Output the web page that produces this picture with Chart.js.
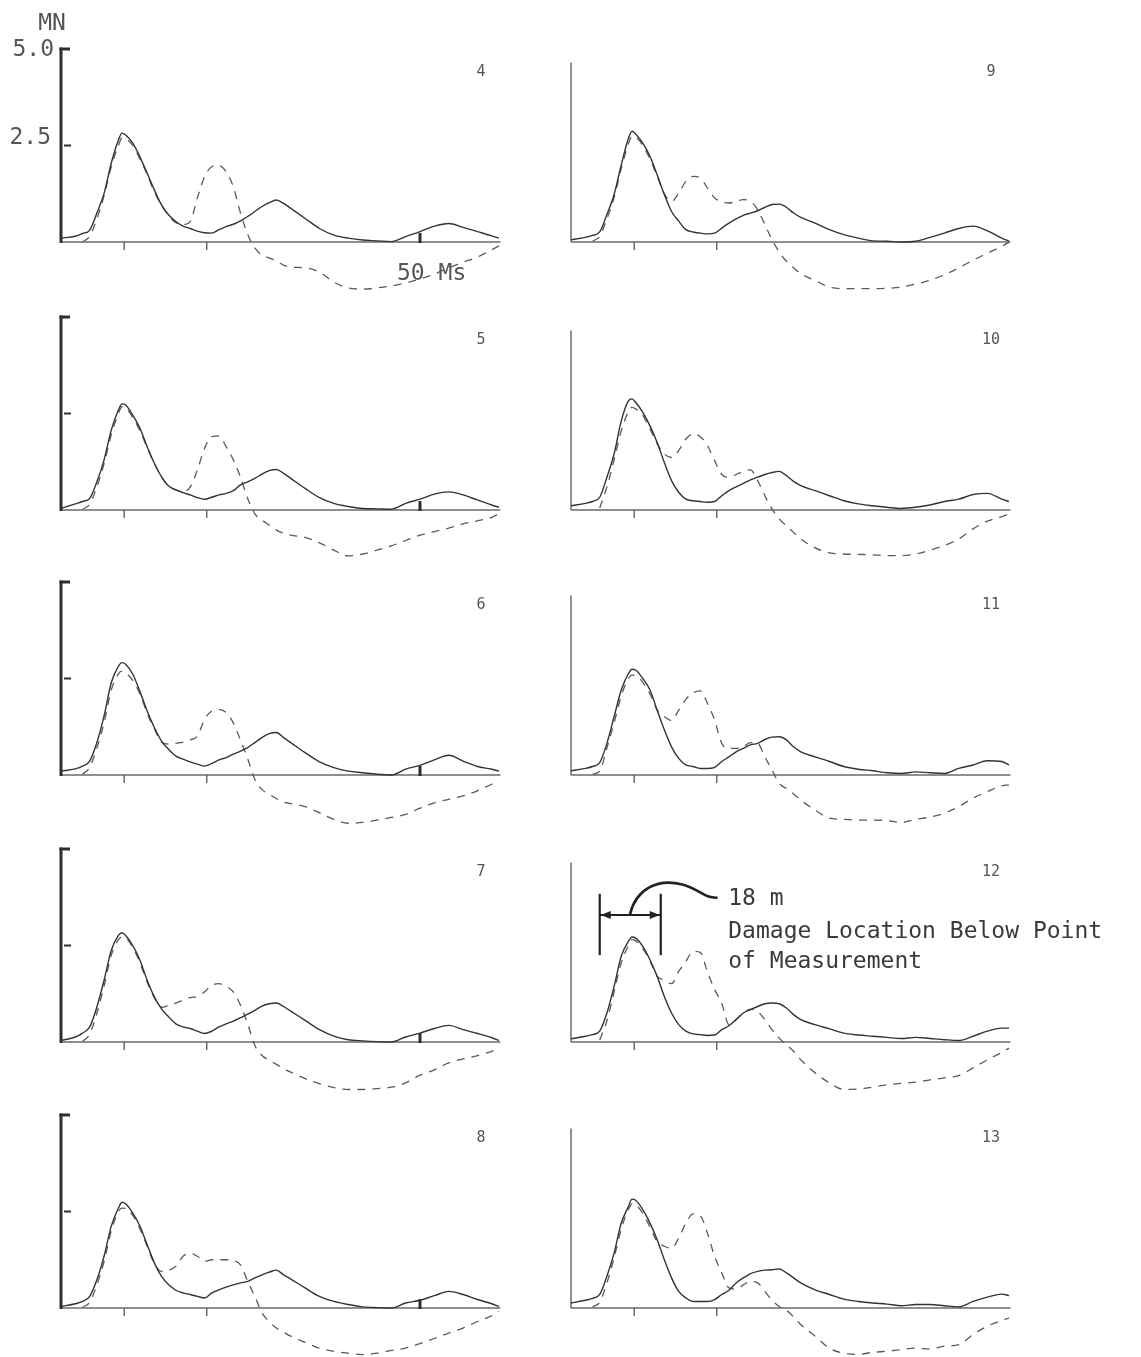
<!DOCTYPE html>
<html>
<head>
<meta charset="utf-8">
<script src="https://cdn.jsdelivr.net/npm/chart.js@4.4.1/dist/chart.umd.min.js"></script>
<style>
  html, body { margin: 0; padding: 0; background: #ffffff; }
  #sheet { position: relative; width: 1141px; height: 1357px; overflow: hidden; background: #ffffff; }
  #sheet canvas { position: absolute; }
</style>
</head>
<body>
<div id="sheet"></div>
<script>
// Sample times (ms) shared by every trace
const times = [0,2,3,4,5,6,7,8,8.5,9,10,11,12,13,14,15,16,17,18,19,20,21,22,23,24,25,26,27,28,29,30,31,32,34,36,38,40,42,44,46,48,50,52,54,56,58,60,61];

// Force (MN): solid = measured, dashed = computed, one pair per gauge
const solid4  = [0.10,0.15,0.22,0.31,0.75,1.26,2.04,2.64,2.82, 2.77,2.56,2.20,1.78,1.35,0.96,0.70,0.53,0.41,0.35,0.28,0.24,0.23,0.32,0.40,0.46,0.55,0.66,0.79,0.92,1.02,1.09,1.00,0.87, 0.61,0.35,0.18,0.10,0.05,0.03,0.01,0.14,0.27,0.41,0.48,0.38,0.27,0.16, 0.10];
const dashed4 = [null,null,0.00,0.15,0.60,1.20,1.95,2.50,2.70, 2.68,2.50,2.15,1.75,1.30,0.95,0.68,0.50,0.45,0.53,1.15,1.69,1.95,1.98,1.82,1.43,0.75,0.20,-0.15,-0.34,-0.41,-0.49,-0.60,-0.65, -0.67,-0.78,-1.04,-1.19,-1.22,-1.19,-1.14,-1.06,-0.96,-0.83,-0.67,-0.52,-0.39,-0.20, -0.10];

const solid5  = [0.04,0.16,0.22,0.30,0.73,1.30,2.07,2.59,2.75, 2.72,2.46,2.12,1.64,1.21,0.86,0.62,0.52,0.45,0.39,0.32,0.28,0.33,0.39,0.43,0.50,0.65,0.73,0.82,0.93,1.02,1.05,0.95,0.82, 0.56,0.32,0.17,0.09,0.04,0.03,0.02,0.17,0.28,0.41,0.47,0.39,0.26,0.13, 0.07];
const dashed5 = [null,null,0.02,0.15,0.60,1.20,1.95,2.50,2.68, 2.65,2.40,2.05,1.62,1.20,0.86,0.62,0.52,0.48,0.60,1.04,1.60,1.90,1.92,1.64,1.30,0.85,0.30,-0.10,-0.26,-0.39,-0.52,-0.60,-0.65, -0.71,-0.85,-1.04,-1.19,-1.14,-1.04,-0.93,-0.79,-0.65,-0.56,-0.47,-0.36,-0.28,-0.19, -0.09];

const solid6  = [0.10,0.16,0.23,0.36,0.84,1.53,2.39,2.82,2.91, 2.87,2.61,2.16,1.66,1.23,0.88,0.66,0.49,0.41,0.34,0.28,0.23,0.30,0.39,0.45,0.54,0.62,0.71,0.84,0.97,1.07,1.10,0.97,0.84, 0.58,0.34,0.19,0.10,0.06,0.02,0.00,0.15,0.25,0.39,0.51,0.36,0.22,0.15, 0.10];
const dashed6 = [null,null,0.02,0.20,0.70,1.35,2.20,2.62,2.69, 2.65,2.45,2.10,1.60,1.20,0.85,0.80,0.82,0.85,0.91,1.01,1.44,1.66,1.70,1.62,1.35,0.90,0.42,-0.12,-0.38,-0.50,-0.61,-0.70,-0.74, -0.82,-0.98,-1.15,-1.25,-1.23,-1.17,-1.10,-1.02,-0.86,-0.72,-0.63,-0.54,-0.41,-0.24, -0.16];

const solid7  = [0.04,0.13,0.23,0.39,0.91,1.60,2.37,2.76,2.83, 2.76,2.50,2.12,1.60,1.17,0.86,0.65,0.47,0.39,0.35,0.28,0.22,0.28,0.39,0.47,0.54,0.63,0.72,0.82,0.93,0.99,1.01,0.92,0.80, 0.56,0.32,0.15,0.06,0.03,0.01,0.00,0.13,0.23,0.35,0.43,0.32,0.22,0.11, 0.04];
const dashed7 = [null,null,0.02,0.20,0.75,1.45,2.25,2.65,2.72, 2.70,2.45,2.05,1.55,1.15,0.90,0.95,1.01,1.08,1.15,1.18,1.30,1.47,1.51,1.44,1.30,0.95,0.47,-0.09,-0.35,-0.47,-0.58,-0.69,-0.78, -0.95,-1.08,-1.18,-1.23,-1.23,-1.21,-1.17,-1.06,-0.86,-0.72,-0.54,-0.44,-0.35,-0.24, -0.17];

const solid8  = [0.04,0.11,0.17,0.30,0.73,1.34,2.12,2.59,2.74, 2.70,2.46,2.12,1.64,1.17,0.82,0.60,0.46,0.39,0.35,0.30,0.26,0.39,0.47,0.54,0.60,0.65,0.69,0.78,0.86,0.93,0.98,0.86,0.75, 0.52,0.30,0.17,0.09,0.03,0.01,0.00,0.13,0.20,0.32,0.43,0.35,0.22,0.11, 0.04];
const dashed8 = [null,null,0.02,0.15,0.60,1.20,2.00,2.50,2.59, 2.58,2.40,2.05,1.60,1.15,0.95,0.98,1.08,1.34,1.41,1.34,1.21,1.25,1.25,1.25,1.23,1.12,0.69,0.30,-0.13,-0.35,-0.52,-0.63,-0.73, -0.89,-1.04,-1.12,-1.17,-1.21,-1.17,-1.10,-1.04,-0.92,-0.79,-0.65,-0.52,-0.35,-0.20, -0.09];

const solid9  = [0.06,0.12,0.17,0.26,0.71,1.23,2.00,2.69,2.87, 2.80,2.56,2.22,1.74,1.23,0.79,0.54,0.32,0.26,0.23,0.21,0.23,0.36,0.49,0.60,0.69,0.75,0.81,0.90,0.97,0.98,0.90,0.75,0.64, 0.49,0.32,0.19,0.10,0.03,0.02,0.00,0.02,0.12,0.23,0.35,0.41,0.29,0.10, 0.02];
const dashed9 = [null,null,0.02,0.15,0.60,1.15,1.90,2.55,2.74, 2.72,2.50,2.15,1.70,1.25,1.05,1.27,1.57,1.70,1.66,1.40,1.14,1.05,1.01,1.05,1.10,1.05,0.84,0.45,0.06,-0.26,-0.50,-0.67,-0.82, -1.00,-1.17,-1.21,-1.21,-1.21,-1.20,-1.17,-1.09,-0.99,-0.85,-0.67,-0.47,-0.29,-0.11, -0.01];

const solid10  = [0.11,0.17,0.22,0.33,0.85,1.45,2.31,2.83,2.88, 2.79,2.53,2.18,1.75,1.23,0.76,0.46,0.28,0.24,0.22,0.20,0.22,0.37,0.50,0.60,0.69,0.78,0.85,0.92,0.97,1.00,0.89,0.74,0.63, 0.50,0.37,0.24,0.16,0.11,0.07,0.04,0.07,0.13,0.22,0.28,0.40,0.43,0.28, 0.22];
const dashed10 = [null,null,null,0.05,0.60,1.30,2.05,2.55,2.66, 2.62,2.45,2.10,1.72,1.45,1.36,1.54,1.84,1.97,1.90,1.67,1.28,0.92,0.85,0.92,1.00,1.04,0.76,0.37,0.03,-0.23,-0.41,-0.58,-0.75, -0.98,-1.11,-1.14,-1.15,-1.16,-1.18,-1.18,-1.14,-1.04,-0.92,-0.75,-0.49,-0.29,-0.17, -0.10];

const solid11  = [0.11,0.17,0.22,0.32,0.82,1.51,2.20,2.63,2.74, 2.72,2.50,2.20,1.68,1.17,0.73,0.43,0.26,0.22,0.17,0.17,0.20,0.35,0.47,0.60,0.69,0.78,0.82,0.92,0.98,0.99,0.91,0.73,0.60, 0.47,0.35,0.22,0.15,0.11,0.06,0.04,0.08,0.06,0.04,0.17,0.26,0.37,0.35, 0.26];
const dashed11 = [null,null,0.02,0.10,0.70,1.35,2.05,2.50,2.59, 2.58,2.40,2.10,1.68,1.51,1.41,1.68,1.96,2.13,2.18,1.86,1.42,0.82,0.69,0.69,0.73,0.84,0.82,0.47,0.13,-0.22,-0.35,-0.49,-0.65, -0.91,-1.12,-1.15,-1.17,-1.17,-1.18,-1.23,-1.15,-1.09,-0.99,-0.82,-0.60,-0.43,-0.28, -0.26];

const solid12  = [0.08,0.15,0.19,0.28,0.75,1.44,2.22,2.61,2.72, 2.69,2.48,2.13,1.70,1.18,0.75,0.45,0.28,0.21,0.19,0.17,0.18,0.32,0.42,0.58,0.75,0.84,0.92,0.99,1.01,0.99,0.88,0.71,0.58, 0.45,0.34,0.23,0.18,0.15,0.12,0.09,0.12,0.09,0.06,0.04,0.15,0.28,0.36, 0.36];
const dashed12 = [null,null,null,0.05,0.55,1.30,2.05,2.50,2.65, 2.62,2.42,2.10,1.70,1.61,1.51,1.83,2.09,2.35,2.32,1.82,1.36,1.00,0.45,0.58,0.75,0.85,0.79,0.58,0.32,0.10,-0.07,-0.24,-0.46, -0.80,-1.06,-1.23,-1.22,-1.17,-1.11,-1.07,-1.04,-0.98,-0.93,-0.87,-0.67,-0.46,-0.27, -0.16];

const solid13  = [0.13,0.20,0.25,0.35,0.82,1.42,2.20,2.63,2.82, 2.79,2.55,2.20,1.77,1.25,0.78,0.43,0.26,0.17,0.17,0.17,0.22,0.35,0.46,0.65,0.78,0.89,0.95,0.98,0.99,1.01,0.91,0.78,0.65, 0.47,0.35,0.23,0.17,0.13,0.10,0.06,0.09,0.09,0.06,0.03,0.17,0.28,0.36, 0.32];
const dashed13 = [null,null,0.03,0.15,0.65,1.30,2.05,2.55,2.70, 2.68,2.45,2.10,1.72,1.60,1.55,1.81,2.20,2.44,2.39,1.94,1.34,0.91,0.52,0.49,0.60,0.69,0.65,0.43,0.20,0.04,-0.06,-0.23,-0.43, -0.73,-1.04,-1.17,-1.20,-1.15,-1.12,-1.08,-1.04,-1.06,-0.99,-0.95,-0.69,-0.47,-0.32, -0.26];

// Panel order: left column 4-8, right column 9-13
const panelLabels = ['4','5','6','7','8','9','10','11','12','13'];
const solidSeries  = [solid4, solid5, solid6, solid7, solid8, solid9, solid10, solid11, solid12, solid13];
const dashedSeries = [dashed4, dashed5, dashed6, dashed7, dashed8, dashed9, dashed10, dashed11, dashed12, dashed13];

// Axis marks
const xTickTimes = [8.8, 20.3];   // small ticks below the time axis
const markTime = 50;              // 50 ms marker (left column)
const yTickLabels = ['5.0', '2.5'];
const yTickValues = [5.0, 2.5];
const timeLabel = '50 Ms';
const forceUnit = 'MN';
const noteLines = ['18 m', 'Damage Location Below Point', 'of Measurement'];

// Geometry
const T_MAX = 61.2, V_MIN = -1.6, V_MAX = 5.2;
const PX_MS = 7.18, PX_MN = 38.6;
const ROW_BASE = [242, 510, 775, 1042, 1308];
const COL_AXIS = [61, 571];
const COL_CANVAS = [{ left: 0, width: 530 }, { left: 510, width: 631 }];
const CANVAS_H = 310, BASE_IN_CANVAS = 242;

const INK = '#2e2e2e';
const GREY = '#555555';
const MONO = '"DejaVu Sans Mono", "Liberation Mono", monospace';

function line(ctx, x1, y1, x2, y2, w, color) {
  ctx.save();
  ctx.beginPath();
  ctx.lineWidth = w;
  ctx.strokeStyle = color;
  ctx.lineCap = 'butt';
  ctx.moveTo(x1, y1);
  ctx.lineTo(x2, y2);
  ctx.stroke();
  ctx.restore();
}

const axesPlugin = {
  id: 'panelAxes',
  beforeDatasetsDraw(chart) {
    const o = chart.options.plugins.panelAxes;
    const { ctx } = chart;
    const xs = chart.scales.x, ys = chart.scales.y;
    const x0 = xs.getPixelForValue(0), x1 = xs.getPixelForValue(T_MAX);
    const y0 = ys.getPixelForValue(0);
    // time axis
    line(ctx, x0, y0, x1, y0, 1.4, '#6a6a6a');
    xTickTimes.forEach(t => {
      const px = xs.getPixelForValue(t);
      line(ctx, px, y0, px, y0 + 8, 1.3, GREY);
    });
    if (o.left) {
      const pm = xs.getPixelForValue(markTime);
      line(ctx, pm, y0 - 9, pm, y0 + 1, 3, INK);
      // force axis with bracket top and mid tick
      const yTop = ys.getPixelForValue(yTickValues[0]);
      const yMid = ys.getPixelForValue(yTickValues[1]);
      line(ctx, x0, y0 + 1, x0, yTop - 1.5, 3, INK);
      line(ctx, x0 - 1.5, yTop, x0 + 9, yTop, 3, INK);
      line(ctx, x0 + 3, yMid, x0 + 10, yMid, 2, INK);
    } else {
      const yTop = ys.getPixelForValue(4.65);
      line(ctx, x0, y0, x0, yTop, 1.3, GREY);
    }
  },
  afterDatasetsDraw(chart) {
    const o = chart.options.plugins.panelAxes;
    const { ctx } = chart;
    const xs = chart.scales.x, ys = chart.scales.y;
    const x0 = xs.getPixelForValue(0);
    ctx.save();
    ctx.fillStyle = GREY;
    ctx.font = '15px ' + MONO;
    ctx.textAlign = 'center';
    ctx.textBaseline = 'middle';
    ctx.fillText(o.label, xs.getPixelForValue(58.5), ys.getPixelForValue(4.4));
    if (o.first) {
      ctx.font = '23px ' + MONO;
      ctx.textBaseline = 'alphabetic';
      ctx.textAlign = 'center';
      ctx.fillText(forceUnit, x0 - 9, 30);
      ctx.textAlign = 'right';
      ctx.fillText(yTickLabels[0], x0 - 7, ys.getPixelForValue(yTickValues[0]) + 7);
      ctx.fillText(yTickLabels[1], x0 - 10, ys.getPixelForValue(yTickValues[1]) - 2);
      ctx.textAlign = 'left';
      ctx.fillText(timeLabel, xs.getPixelForValue(46.8), ys.getPixelForValue(-0.98));
    }
    if (o.note) {
      const a = xs.getPixelForValue(4.0), b = xs.getPixelForValue(12.5);
      const top = ys.getPixelForValue(3.84), bot = ys.getPixelForValue(2.25);
      const ym = ys.getPixelForValue(3.29);
      line(ctx, a, top, a, bot, 2.2, '#222');
      line(ctx, b, top, b, bot, 2.2, '#222');
      line(ctx, a, ym, b, ym, 2.2, '#222');
      // arrow heads pointing at the two bars
      ctx.fillStyle = '#222';
      ctx.beginPath();
      ctx.moveTo(a + 1, ym); ctx.lineTo(a + 11, ym - 4); ctx.lineTo(a + 11, ym + 4); ctx.closePath(); ctx.fill();
      ctx.beginPath();
      ctx.moveTo(b - 1, ym); ctx.lineTo(b - 11, ym - 4); ctx.lineTo(b - 11, ym + 4); ctx.closePath(); ctx.fill();
      // leader curve to the caption
      ctx.beginPath();
      ctx.lineWidth = 2.6;
      ctx.strokeStyle = '#222';
      ctx.moveTo(xs.getPixelForValue(8.2), ym);
      ctx.bezierCurveTo(xs.getPixelForValue(9.0), ys.getPixelForValue(3.95),
                        xs.getPixelForValue(12.0), ys.getPixelForValue(4.25),
                        xs.getPixelForValue(15.5), ys.getPixelForValue(4.08));
      ctx.bezierCurveTo(xs.getPixelForValue(18.0), ys.getPixelForValue(3.95),
                        xs.getPixelForValue(18.5), ys.getPixelForValue(3.72),
                        xs.getPixelForValue(20.4), ys.getPixelForValue(3.74));
      ctx.stroke();
      ctx.fillStyle = '#3a3a3a';
      ctx.font = '23px ' + MONO;
      ctx.textAlign = 'left';
      ctx.textBaseline = 'alphabetic';
      const tx = xs.getPixelForValue(21.9);
      ctx.fillText(noteLines[0], tx, ys.getPixelForValue(3.56));
      ctx.fillText(noteLines[1], tx, ys.getPixelForValue(2.70));
      ctx.fillText(noteLines[2], tx, ys.getPixelForValue(1.92));
    }
    ctx.restore();
  }
};

const sheet = document.getElementById('sheet');
const toPoints = vals => times.map((t, i) => ({ x: t, y: vals[i] }));

panelLabels.forEach((label, i) => {
  const col = i < 5 ? 0 : 1;
  const row = i % 5;
  const geo = COL_CANVAS[col];
  const canvas = document.createElement('canvas');
  canvas.width = geo.width;
  canvas.height = CANVAS_H;
  canvas.style.left = geo.left + 'px';
  canvas.style.top = (ROW_BASE[row] - BASE_IN_CANVAS) + 'px';
  canvas.style.width = geo.width + 'px';
  canvas.style.height = CANVAS_H + 'px';
  sheet.appendChild(canvas);

  const padLeft = COL_AXIS[col] - geo.left;
  const padRight = geo.width - padLeft - T_MAX * PX_MS;
  const padTop = BASE_IN_CANVAS - V_MAX * PX_MN;
  const padBottom = CANVAS_H - BASE_IN_CANVAS + V_MIN * PX_MN;

  new Chart(canvas, {
    type: 'line',
    data: {
      datasets: [
        { label: 'measured', data: toPoints(solidSeries[i]), borderColor: '#333333', borderWidth: 1.4,
          pointRadius: 0, cubicInterpolationMode: 'monotone', fill: false, clip: false },
        { label: 'computed', data: toPoints(dashedSeries[i]), borderColor: '#5a5a5a', borderWidth: 1.3,
          borderDash: [8, 7], pointRadius: 0, cubicInterpolationMode: 'monotone', fill: false, clip: false }
      ]
    },
    options: {
      responsive: false,
      animation: false,
      devicePixelRatio: 1,
      layout: { padding: { left: padLeft, right: padRight, top: padTop, bottom: padBottom } },
      scales: {
        x: { type: 'linear', min: 0, max: T_MAX, display: false },
        y: { type: 'linear', min: V_MIN, max: V_MAX, display: false }
      },
      plugins: {
        legend: { display: false },
        tooltip: { enabled: false },
        panelAxes: { label: label, left: col === 0, first: i === 0, note: label === '12' }
      }
    },
    plugins: [axesPlugin]
  });
});
</script>
</body>
</html>
